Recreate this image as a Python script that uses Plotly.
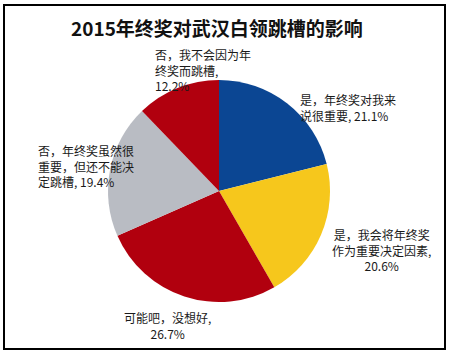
import plotly.graph_objects as go

title = "2015年终奖对武汉白领跳槽的影响"
categories = [
    "是，年终奖对我来<br>说很重要",
    "是，我会将年终奖<br>作为重要决定因素,<br>",
    "可能吧，没想好,<br>",
    "否，年终奖虽然很<br>重要，但还不能决<br>定跳槽",
    "否，我不会因为年<br>终奖而跳槽,<br>",
]
values = [21.1, 20.6, 26.7, 19.4, 12.2]
colors = ["#0b4693", "#f6c71c", "#b1000e", "#b9bcc3", "#b1000e"]

W, H = 449, 354
# label anchor positions in pixels (x, y_top, xanchor, align)
label_pos = [
    (298, 89, "left", "left"),
    (381, 224, "center", "center"),
    (167, 307, "center", "center"),
    (36, 140, "left", "left"),
    (153, 44, "left", "left"),
]

cx, cy, r = 219, 191, 111

fig = go.Figure(go.Pie(
    labels=categories,
    values=values,
    sort=False,
    direction="clockwise",
    rotation=0,
    marker=dict(colors=colors, line=dict(width=0)),
    textinfo="none",
    hoverinfo="label+percent",
    showlegend=False,
    domain=dict(x=[(cx - r) / W, (cx + r) / W], y=[(H - cy - r) / H, (H - cy + r) / H]),
))

font = "Noto Sans CJK SC, Microsoft YaHei, sans-serif"
annotations = []
for cat, v, (x, y, xa, al) in zip(categories, values, label_pos):
    sep = "" if cat.endswith("<br>") else ", "
    annotations.append(dict(
        x=x / W, y=1 - y / H, xref="paper", yref="paper",
        xanchor=xa, yanchor="top", align=al, showarrow=False,
        text=f"{cat}{sep}{v}%",
        font=dict(family=font, size=12, color="#1a1a1a"),
    ))
annotations.append(dict(
    x=217 / W, y=1 - 27 / H, xref="paper", yref="paper",
    xanchor="center", yanchor="middle", showarrow=False,
    text=f"<b>{title}</b>",
    font=dict(family=font, size=19, color="#111111"),
))

fig.update_layout(
    width=W, height=H,
    margin=dict(l=0, r=0, t=0, b=0),
    paper_bgcolor="white", plot_bgcolor="white",
    annotations=annotations,
    shapes=[dict(type="rect", xref="paper", yref="paper",
                 x0=4 / W, x1=445 / W, y0=1 - 349 / H, y1=1 - 5 / H,
                 line=dict(color="black", width=2))],
)

fig.write_html("out.html")
